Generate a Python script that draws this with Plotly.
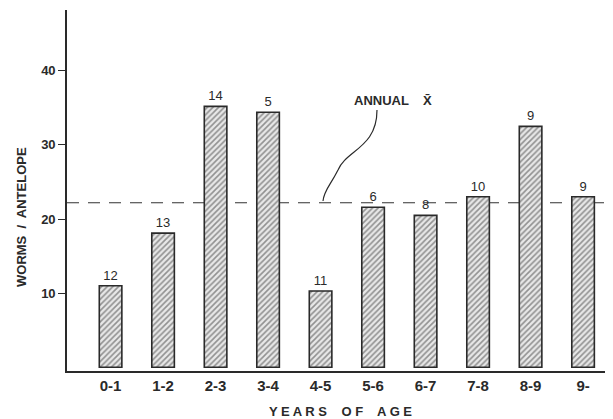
import plotly.graph_objects as go

age_classes = ["0-1", "1-2", "2-3", "3-4", "4-5", "5-6", "6-7", "7-8", "8-9", "9-"]
worms_per_antelope = [11.0, 18.1, 35.2, 34.4, 10.3, 21.6, 20.5, 23.0, 32.5, 23.0]
sample_sizes = ["12", "13", "14", "5", "11", "6", "8", "10", "9", "9"]
annual_mean = 22.2
y_ticks = [10, 20, 30, 40]

# page body has an 8px margin, so the figure is laid out 8px in from the window corner
OFF = 8
W, H = 613 - OFF, 419 - OFF
L, R, T, B = 67 - OFF, 0, 10 - OFF, 48
pw, ph = W - L - R, H - T - B

def px(x):
    return (x - OFF - L) / pw

def py(y):
    return 1 - (y - OFF - T) / ph

FONT = "Liberation Sans"
INK = "#2a2a2a"

fig = go.Figure()
fig.add_trace(go.Bar(
    x=list(range(len(age_classes))),
    y=worms_per_antelope,
    width=0.43,
    text=sample_sizes,
    textposition="outside",
    cliponaxis=False,
    textfont=dict(family=FONT, size=13, color=INK),
    marker=dict(
        color="white",
        line=dict(color=INK, width=1.6),
        pattern=dict(shape="/", fgcolor="#3a3a3a", bgcolor="#e8e8e8", size=4, solidity=0.4),
    ),
    hoverinfo="skip",
))

fig.add_shape(type="line", xref="paper", yref="y", x0=0, x1=1, y0=annual_mean, y1=annual_mean,
              line=dict(color="#333333", width=1.1, dash="12px,9px"), layer="below")

# curved pointer from label to the mean line
path = "M {},{} C {},{} {},{} {},{} C {},{} {},{} {},{}".format(
    px(377), py(110), px(377), py(148), px(346), py(150), px(338), py(170),
    px(330), py(186), px(324), py(190), px(323), py(201))
fig.add_shape(type="path", xref="paper", yref="paper", path=path,
              line=dict(color=INK, width=1.2))

fig.add_annotation(xref="paper", yref="paper", x=px(393), y=py(100), xanchor="center", yanchor="middle",
                   text="ANNUAL    X\u0304", showarrow=False,
                   font=dict(family=FONT, size=13, color=INK, weight="bold"))

# axis titles
fig.add_annotation(xref="paper", yref="paper", x=px(340), y=py(411), xanchor="center", yanchor="middle",
                   text="Y E A R S    O F    A G E", showarrow=False,
                   font=dict(family=FONT, size=13, color=INK, weight="bold"))
fig.add_annotation(xref="paper", yref="paper", x=px(21), y=py(217), xanchor="center", yanchor="middle",
                   text="WORMS  /  ANTELOPE", textangle=-90, showarrow=False,
                   font=dict(family=FONT, size=13, color=INK, weight="bold"))

fig.update_layout(
    width=W, height=H,
    margin=dict(l=L, r=R, t=T, b=B),
    paper_bgcolor="white", plot_bgcolor="white",
    showlegend=False,
    xaxis=dict(
        range=[-0.83, 9.57], automargin=False,
        tickmode="array", tickvals=list(range(len(age_classes))), ticktext=age_classes,
        showline=True, linecolor=INK, linewidth=1.6, mirror=False,
        showgrid=False, zeroline=False, ticks="",
        tickfont=dict(family=FONT, size=15, color=INK, weight="bold"),
    ),
    yaxis=dict(
        range=[-0.5, 48.2], automargin=False,
        tickmode="array", tickvals=y_ticks,
        showline=True, linecolor=INK, linewidth=1.6,
        showgrid=False, zeroline=False,
        ticks="outside", ticklen=7, tickwidth=1.4, tickcolor=INK,
        tickfont=dict(family=FONT, size=13, color=INK, weight="bold"),
    ),
)

fig.write_html("out.html")
